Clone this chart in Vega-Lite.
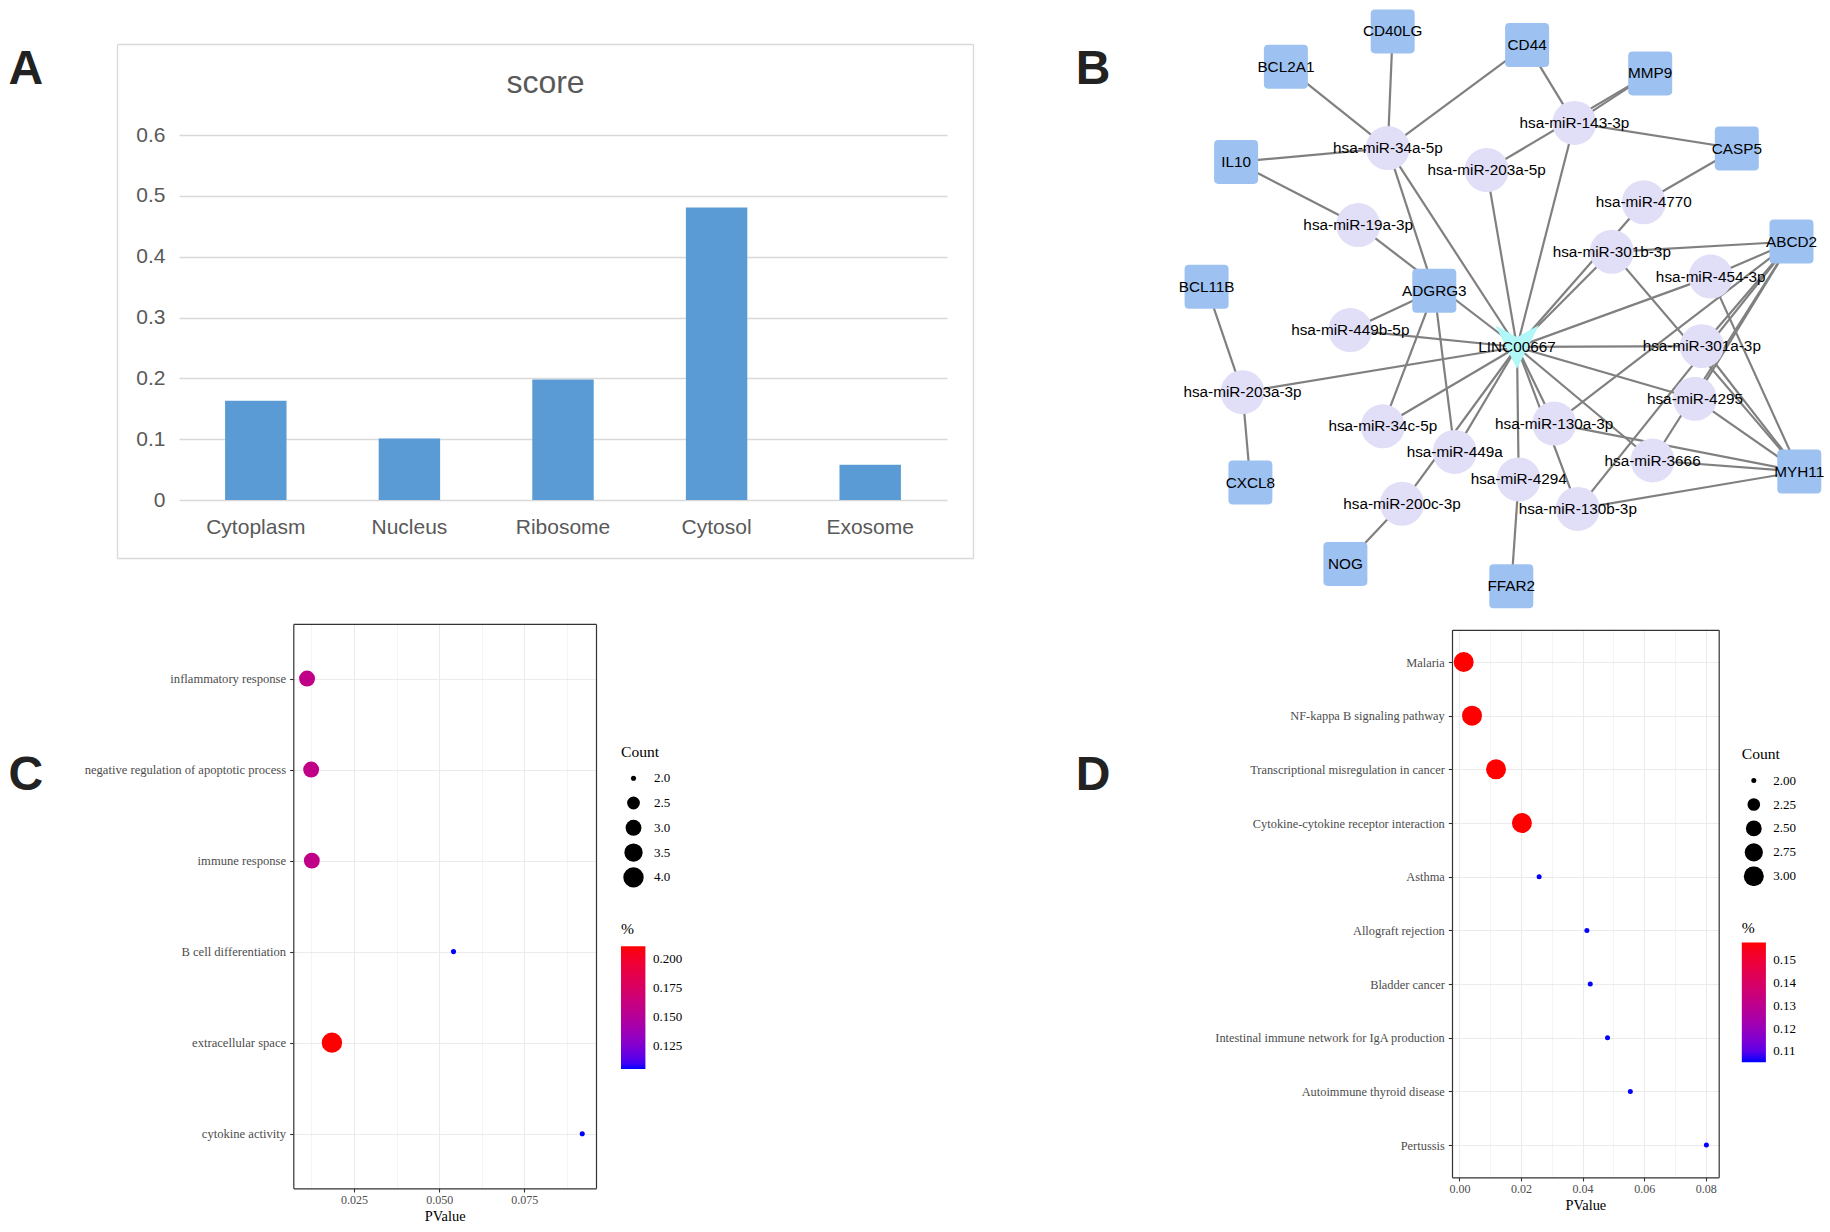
{
  "$schema": "https://vega.github.io/schema/vega-lite/v6.json",
  "width": 1830,
  "height": 1232,
  "autosize": {"type": "none"},
  "padding": 0,
  "background": "white",
  "config": {
    "view": {"stroke": null},
    "font": "Liberation Sans",
    "axis": {"labelOverlap": false},
    "legend": {"symbolBaseFillColor": "black", "symbolBaseStrokeColor": "black", "padding": 0}
  },
  "datasets": {
    "loc": [
      {"location": "Cytoplasm", "score": 0.163},
      {"location": "Nucleus", "score": 0.101},
      {"location": "Ribosome", "score": 0.198},
      {"location": "Cytosol", "score": 0.481},
      {"location": "Exosome", "score": 0.058}
    ],
    "frame": [{"v": 0}, {"v": 1}],
    "go": [
      {"term": "inflammatory response", "PValue": 0.0112, "Count": 3, "Percent": 0.1579},
      {"term": "negative regulation of apoptotic process", "PValue": 0.0124, "Count": 3, "Percent": 0.1579},
      {"term": "immune response", "PValue": 0.0126, "Count": 3, "Percent": 0.1579},
      {"term": "B cell differentiation", "PValue": 0.0542, "Count": 2, "Percent": 0.1053},
      {"term": "extracellular space", "PValue": 0.0185, "Count": 4, "Percent": 0.2105},
      {"term": "cytokine activity", "PValue": 0.092, "Count": 2, "Percent": 0.1053}
    ],
    "kegg": [
      {"term": "Malaria", "PValue": 0.0014, "Count": 3, "Percent": 0.1579},
      {"term": "NF-kappa B signaling pathway", "PValue": 0.0041, "Count": 3, "Percent": 0.1579},
      {"term": "Transcriptional misregulation in cancer", "PValue": 0.0119, "Count": 3, "Percent": 0.1579},
      {"term": "Cytokine-cytokine receptor interaction", "PValue": 0.0203, "Count": 3, "Percent": 0.1579},
      {"term": "Asthma", "PValue": 0.0259, "Count": 2, "Percent": 0.1053},
      {"term": "Allograft rejection", "PValue": 0.0414, "Count": 2, "Percent": 0.1053},
      {"term": "Bladder cancer", "PValue": 0.0425, "Count": 2, "Percent": 0.1053},
      {"term": "Intestinal immune network for IgA production", "PValue": 0.0481, "Count": 2, "Percent": 0.1053},
      {"term": "Autoimmune thyroid disease", "PValue": 0.0555, "Count": 2, "Percent": 0.1053},
      {"term": "Pertussis", "PValue": 0.0802, "Count": 2, "Percent": 0.1053}
    ],
    "nodes": [
      {"id": "CD40LG", "type": "gene", "x": 222.7, "y": 31.4},
      {"id": "BCL2A1", "type": "gene", "x": 115.9, "y": 66.7},
      {"id": "CD44", "type": "gene", "x": 357.1, "y": 45.1},
      {"id": "MMP9", "type": "gene", "x": 480.2, "y": 73.4},
      {"id": "CASP5", "type": "gene", "x": 566.8, "y": 148.5},
      {"id": "IL10", "type": "gene", "x": 66.1, "y": 161.9},
      {"id": "ABCD2", "type": "gene", "x": 621.5, "y": 241.6},
      {"id": "BCL11B", "type": "gene", "x": 36.6, "y": 286.8},
      {"id": "ADGRG3", "type": "gene", "x": 264.3, "y": 290.8},
      {"id": "MYH11", "type": "gene", "x": 629.3, "y": 471.5},
      {"id": "CXCL8", "type": "gene", "x": 80.4, "y": 482.5},
      {"id": "NOG", "type": "gene", "x": 175.4, "y": 563.9},
      {"id": "FFAR2", "type": "gene", "x": 341.3, "y": 586.3},
      {"id": "LINC00667", "type": "lnc", "x": 347, "y": 347},
      {"id": "hsa-miR-34a-5p", "type": "mirna", "x": 217.8, "y": 148.1},
      {"id": "hsa-miR-143-3p", "type": "mirna", "x": 404.4, "y": 122.9},
      {"id": "hsa-miR-203a-5p", "type": "mirna", "x": 316.7, "y": 170.1},
      {"id": "hsa-miR-4770", "type": "mirna", "x": 473.8, "y": 202.3},
      {"id": "hsa-miR-19a-3p", "type": "mirna", "x": 188.2, "y": 225.1},
      {"id": "hsa-miR-301b-3p", "type": "mirna", "x": 441.8, "y": 251.8},
      {"id": "hsa-miR-454-3p", "type": "mirna", "x": 540.7, "y": 276.6},
      {"id": "hsa-miR-449b-5p", "type": "mirna", "x": 180.3, "y": 330.1},
      {"id": "hsa-miR-301a-3p", "type": "mirna", "x": 531.8, "y": 346.2},
      {"id": "hsa-miR-203a-3p", "type": "mirna", "x": 72.5, "y": 392.2},
      {"id": "hsa-miR-4295", "type": "mirna", "x": 525.0, "y": 398.8},
      {"id": "hsa-miR-34c-5p", "type": "mirna", "x": 212.8, "y": 426.3},
      {"id": "hsa-miR-130a-3p", "type": "mirna", "x": 384.2, "y": 423.6},
      {"id": "hsa-miR-449a", "type": "mirna", "x": 284.7, "y": 451.9},
      {"id": "hsa-miR-3666", "type": "mirna", "x": 482.6, "y": 460.5},
      {"id": "hsa-miR-4294", "type": "mirna", "x": 348.7, "y": 479.4},
      {"id": "hsa-miR-200c-3p", "type": "mirna", "x": 232.0, "y": 503.8},
      {"id": "hsa-miR-130b-3p", "type": "mirna", "x": 407.8, "y": 508.9}
    ],
    "edges": [
      {"source": "BCL2A1", "target": "hsa-miR-34a-5p"},
      {"source": "CD40LG", "target": "hsa-miR-34a-5p"},
      {"source": "CD44", "target": "hsa-miR-34a-5p"},
      {"source": "IL10", "target": "hsa-miR-34a-5p"},
      {"source": "ADGRG3", "target": "hsa-miR-34a-5p"},
      {"source": "LINC00667", "target": "hsa-miR-34a-5p"},
      {"source": "CD44", "target": "hsa-miR-143-3p"},
      {"source": "MMP9", "target": "hsa-miR-143-3p"},
      {"source": "MMP9", "target": "hsa-miR-203a-5p"},
      {"source": "CASP5", "target": "hsa-miR-143-3p"},
      {"source": "LINC00667", "target": "hsa-miR-143-3p"},
      {"source": "LINC00667", "target": "hsa-miR-203a-5p"},
      {"source": "CASP5", "target": "hsa-miR-4770"},
      {"source": "LINC00667", "target": "hsa-miR-4770"},
      {"source": "LINC00667", "target": "hsa-miR-301b-3p"},
      {"source": "ABCD2", "target": "hsa-miR-301b-3p"},
      {"source": "MYH11", "target": "hsa-miR-301b-3p"},
      {"source": "ABCD2", "target": "hsa-miR-454-3p"},
      {"source": "ABCD2", "target": "hsa-miR-301a-3p"},
      {"source": "ABCD2", "target": "hsa-miR-4295"},
      {"source": "ABCD2", "target": "hsa-miR-3666"},
      {"source": "ABCD2", "target": "hsa-miR-130b-3p"},
      {"source": "ABCD2", "target": "hsa-miR-130a-3p"},
      {"source": "LINC00667", "target": "hsa-miR-454-3p"},
      {"source": "MYH11", "target": "hsa-miR-454-3p"},
      {"source": "LINC00667", "target": "hsa-miR-301a-3p"},
      {"source": "MYH11", "target": "hsa-miR-301a-3p"},
      {"source": "LINC00667", "target": "hsa-miR-4295"},
      {"source": "MYH11", "target": "hsa-miR-4295"},
      {"source": "LINC00667", "target": "hsa-miR-3666"},
      {"source": "MYH11", "target": "hsa-miR-3666"},
      {"source": "LINC00667", "target": "hsa-miR-130a-3p"},
      {"source": "MYH11", "target": "hsa-miR-130a-3p"},
      {"source": "LINC00667", "target": "hsa-miR-130b-3p"},
      {"source": "MYH11", "target": "hsa-miR-130b-3p"},
      {"source": "LINC00667", "target": "hsa-miR-4294"},
      {"source": "FFAR2", "target": "hsa-miR-4294"},
      {"source": "LINC00667", "target": "hsa-miR-449a"},
      {"source": "ADGRG3", "target": "hsa-miR-449a"},
      {"source": "LINC00667", "target": "hsa-miR-200c-3p"},
      {"source": "NOG", "target": "hsa-miR-200c-3p"},
      {"source": "LINC00667", "target": "hsa-miR-34c-5p"},
      {"source": "ADGRG3", "target": "hsa-miR-34c-5p"},
      {"source": "ADGRG3", "target": "hsa-miR-449b-5p"},
      {"source": "LINC00667", "target": "hsa-miR-449b-5p"},
      {"source": "LINC00667", "target": "hsa-miR-203a-3p"},
      {"source": "BCL11B", "target": "hsa-miR-203a-3p"},
      {"source": "CXCL8", "target": "hsa-miR-203a-3p"},
      {"source": "IL10", "target": "hsa-miR-19a-3p"},
      {"source": "LINC00667", "target": "hsa-miR-19a-3p"}
    ],
    "letters": [
      {"panel": "A", "col": "left", "row": "top"},
      {"panel": "B", "col": "right", "row": "top"},
      {"panel": "C", "col": "left", "row": "bottom"},
      {"panel": "D", "col": "right", "row": "bottom"}
    ]
  },
  "resolve": {
    "scale": {"x": "independent", "y": "independent", "color": "independent", "size": "independent"},
    "axis": {"x": "independent", "y": "independent"},
    "legend": {"color": "independent", "size": "independent"}
  },
  "layer": [
    {
      "data": {"name": "loc"},
      "mark": {"type": "bar", "color": "#5B9BD5"},
      "encoding": {
        "x": {
          "field": "location", "type": "nominal", "sort": null,
          "scale": {"type": "band", "domain": ["Cytoplasm", "Nucleus", "Ribosome", "Cytosol", "Exosome"], "range": [179, 947], "paddingInner": 0.6, "paddingOuter": 0.3},
          "axis": {"orient": "bottom", "offset": -715.5, "title": null, "domain": false, "ticks": false, "tickSize": 0, "labelPadding": 0, "labelAngle": 0, "labelFont": "Liberation Sans", "labelFontSize": 21, "labelColor": "#595959", "grid": false}
        },
        "y": {
          "field": "score", "type": "quantitative",
          "scale": {"domain": [0, 0.6], "range": [500, 135], "nice": false, "zero": true},
          "axis": {"orient": "left", "offset": -165, "title": null, "domain": false, "ticks": false, "tickSize": 0, "labelPadding": 0, "values": [0, 0.1, 0.2, 0.3, 0.4, 0.5, 0.6], "format": "~g", "labelFont": "Liberation Sans", "labelFontSize": 21, "labelColor": "#595959", "grid": true, "gridColor": "#D9D9D9", "gridWidth": 1.3}
        }
      }
    },
    {
      "data": {"name": "frame"},
      "mark": {"type": "point", "opacity": 0},
      "encoding": {
        "x": {
          "field": "v", "type": "quantitative",
          "scale": {"domain": [0, 1], "range": [117, 973], "nice": false, "zero": false},
          "axis": {"orient": "top", "offset": -44, "title": "score", "titleY": 38, "titleBaseline": "middle", "titleFont": "Liberation Sans", "titleFontSize": 32, "titleFontWeight": "normal", "titleColor": "#595959", "labels": false, "ticks": false, "grid": false, "domainColor": "#D9D9D9", "domainWidth": 1.3}
        },
        "y": {
          "field": "v", "type": "quantitative",
          "scale": {"domain": [0, 1], "range": [44, 558], "nice": false, "zero": false},
          "axis": {"orient": "left", "offset": -117, "title": null, "labels": false, "ticks": false, "grid": false, "domainColor": "#D9D9D9", "domainWidth": 1.3}
        }
      }
    },
    {
      "data": {"name": "frame"},
      "mark": {"type": "point", "opacity": 0},
      "encoding": {
        "x": {
          "field": "v", "type": "quantitative",
          "scale": {"domain": [0, 1], "range": [117, 973], "nice": false, "zero": false},
          "axis": {"orient": "bottom", "offset": -674, "title": null, "labels": false, "ticks": false, "grid": false, "domainColor": "#D9D9D9", "domainWidth": 1.3}
        },
        "y": {
          "field": "v", "type": "quantitative",
          "scale": {"domain": [0, 1], "range": [44, 558], "nice": false, "zero": false},
          "axis": {"orient": "right", "offset": -857, "title": null, "labels": false, "ticks": false, "grid": false, "domainColor": "#D9D9D9", "domainWidth": 1.3}
        }
      }
    },
    {
      "layer": [
        {
          "data": {"name": "edges"},
          "transform": [
            {"lookup": "source", "from": {"data": {"name": "nodes"}, "key": "id", "fields": ["x", "y"]}, "as": ["sx", "sy"]},
            {"lookup": "target", "from": {"data": {"name": "nodes"}, "key": "id", "fields": ["x", "y"]}, "as": ["tx", "ty"]}
          ],
          "mark": {"type": "rule", "color": "#808080", "strokeWidth": 2.2},
          "encoding": {
            "x": {"field": "sx", "type": "quantitative", "scale": {"domain": [0, 660], "range": [1170, 1830], "nice": false, "zero": false}, "axis": null},
            "y": {"field": "sy", "type": "quantitative", "scale": {"domain": [0, 615], "range": [0, 615], "nice": false, "zero": false}, "axis": null},
            "x2": {"field": "tx"},
            "y2": {"field": "ty"}
          }
        },
        {
          "data": {"name": "nodes"},
          "transform": [{"filter": "datum.type === 'gene'"}],
          "mark": {"type": "point", "filled": true, "opacity": 1, "color": "#9DC2F2", "size": 1936, "shape": "M -0.8 -1 L 0.8 -1 Q 1 -1 1 -0.8 L 1 0.8 Q 1 1 0.8 1 L -0.8 1 Q -1 1 -1 0.8 L -1 -0.8 Q -1 -1 -0.8 -1 Z"},
          "encoding": {
            "x": {"field": "x", "type": "quantitative", "scale": {"domain": [0, 660], "range": [1170, 1830], "nice": false, "zero": false}, "axis": null},
            "y": {"field": "y", "type": "quantitative", "scale": {"domain": [0, 615], "range": [0, 615], "nice": false, "zero": false}, "axis": null}
          }
        },
        {
          "data": {"name": "nodes"},
          "transform": [{"filter": "datum.type === 'mirna'"}],
          "mark": {"type": "point", "filled": true, "opacity": 1, "color": "#E1DEF8", "size": 1936, "shape": "circle"},
          "encoding": {
            "x": {"field": "x", "type": "quantitative", "scale": {"domain": [0, 660], "range": [1170, 1830], "nice": false, "zero": false}, "axis": null},
            "y": {"field": "y", "type": "quantitative", "scale": {"domain": [0, 615], "range": [0, 615], "nice": false, "zero": false}, "axis": null}
          }
        },
        {
          "data": {"name": "nodes"},
          "transform": [{"filter": "datum.type === 'lnc'"}],
          "mark": {"type": "point", "filled": true, "opacity": 1, "color": "#B0F8F8", "size": 1900, "shape": "M -1 -1 L 0 -0.45 L 1 -1 L 0 1 Z"},
          "encoding": {
            "x": {"field": "x", "type": "quantitative", "scale": {"domain": [0, 660], "range": [1170, 1830], "nice": false, "zero": false}, "axis": null},
            "y": {"field": "y", "type": "quantitative", "scale": {"domain": [0, 615], "range": [0, 615], "nice": false, "zero": false}, "axis": null}
          }
        },
        {
          "data": {"name": "nodes"},
          "mark": {"type": "text", "font": "Liberation Sans", "fontSize": 15.3, "color": "#000000", "align": "center", "baseline": "middle"},
          "encoding": {
            "x": {"field": "x", "type": "quantitative", "scale": {"domain": [0, 660], "range": [1170, 1830], "nice": false, "zero": false}, "axis": null},
            "y": {"field": "y", "type": "quantitative", "scale": {"domain": [0, 615], "range": [0, 615], "nice": false, "zero": false}, "axis": null},
            "text": {"field": "id"}
          }
        }
      ]
    },
    {
      "data": {"name": "go"},
      "resolve": {"axis": {"x": "independent", "y": "independent"}},
      "layer": [
        {
          "mark": {"type": "circle", "opacity": 1, "strokeWidth": 0},
          "encoding": {
            "x": {
              "field": "PValue", "type": "quantitative",
              "scale": {"type": "linear", "domain": [0.00716, 0.09604], "range": [293.3, 596], "nice": false, "zero": false},
              "axis": {"orient": "bottom", "offset": -43.7, "values": [0.025, 0.05, 0.075], "format": ".3f", "title": "PValue", "titleFont": "Liberation Serif", "titleFontSize": 14.4, "titleFontWeight": "normal", "titleColor": "#000000", "titlePadding": 4.5, "labelFont": "Liberation Serif", "labelFontSize": 12, "labelColor": "#4D4D4D", "labelPadding": 2, "labelFlush": false, "tickSize": 3.7, "tickColor": "#333333", "tickWidth": 1.1, "domainColor": "#333333", "domainWidth": 1.2, "grid": false}
            },
            "y": {
              "field": "term", "type": "nominal",
              "scale": {"type": "point", "domain": ["inflammatory response", "negative regulation of apoptotic process", "immune response", "B cell differentiation", "extracellular space", "cytokine activity"], "range": [623.9, 1188.3], "padding": 0.6},
              "axis": {"orient": "left", "offset": -293.3, "title": null, "labelFont": "Liberation Serif", "labelFontSize": 12.6, "labelColor": "#4D4D4D", "labelPadding": 4, "labelLimit": 500, "tickSize": 3.7, "tickColor": "#333333", "tickWidth": 1.1, "domainColor": "#333333", "domainWidth": 1.2, "grid": true, "gridColor": "#EBEBEB", "gridWidth": 1.1}
            },
            "size": {
              "field": "Count", "type": "quantitative",
              "scale": {"type": "linear", "domain": [2, 2.5, 3, 3.5, 4], "range": [26, 163, 253, 337, 416], "zero": false, "nice": false},
              "legend": {"title": "Count", "orient": "none", "legendX": 621, "legendY": 744.7, "direction": "vertical", "values": [2, 2.5, 3, 3.5, 4], "format": ".1f", "titleFont": "Liberation Serif", "titleFontSize": 15.6, "titleFontWeight": "normal", "titleColor": "#000000", "titlePadding": 7.4, "labelFont": "Liberation Serif", "labelFontSize": 13, "labelColor": "#000000", "labelOffset": 10, "symbolOffset": 2, "clipHeight": 21, "rowPadding": 3.8, "symbolType": "circle", "symbolFillColor": "#000000", "symbolStrokeColor": "#000000", "symbolStrokeWidth": 0, "padding": 0}
            },
            "color": {
              "field": "Percent", "type": "quantitative",
              "scale": {"type": "linear", "domain": [0.10526, 0.21053], "range": ["#0000FF", "#FF0000"], "interpolate": "lab"},
              "legend": {"title": "%", "orient": "none", "legendX": 621, "legendY": 922.4, "direction": "vertical", "gradientLength": 122.6, "gradientThickness": 24.4, "gradientStrokeWidth": 0, "values": [0.125, 0.15, 0.175, 0.2], "format": ".3f", "titleFont": "Liberation Serif", "titleFontSize": 15.6, "titleFontWeight": "normal", "titleColor": "#000000", "titlePadding": 8.3, "labelFont": "Liberation Serif", "labelFontSize": 13, "labelColor": "#000000", "labelOffset": 7.6, "labelOverlap": false, "padding": 0}
            }
          }
        },
        {
          "mark": {"type": "circle", "opacity": 0},
          "encoding": {
            "x": {
              "field": "PValue", "type": "quantitative",
              "scale": {"type": "linear", "domain": [0.00716, 0.09604], "range": [293.3, 596], "nice": false, "zero": false},
              "axis": {"orient": "top", "offset": -623.9, "values": [0.025, 0.05, 0.075], "title": null, "labels": false, "ticks": false, "domainColor": "#333333", "domainWidth": 1.2, "grid": true, "gridColor": "#EBEBEB", "gridWidth": 1.1}
            },
            "y": {
              "field": "term", "type": "nominal",
              "scale": {"type": "point", "domain": ["inflammatory response", "negative regulation of apoptotic process", "immune response", "B cell differentiation", "extracellular space", "cytokine activity"], "range": [623.9, 1188.3], "padding": 0.6},
              "axis": {"orient": "right", "offset": -1234, "title": null, "labels": false, "ticks": false, "grid": false, "domainColor": "#333333", "domainWidth": 1.2}
            }
          }
        },
        {
          "mark": {"type": "circle", "opacity": 0},
          "encoding": {
            "x": {
              "field": "PValue", "type": "quantitative",
              "scale": {"type": "linear", "domain": [0.00716, 0.09604], "range": [293.3, 596], "nice": false, "zero": false},
              "axis": {"orient": "top", "offset": -623.9, "values": [0.0125, 0.0375, 0.0625, 0.0875], "title": null, "labels": false, "ticks": false, "domain": false, "grid": true, "gridColor": "#EBEBEB", "gridWidth": 0.55}
            },
            "y": {
              "field": "term", "type": "nominal",
              "scale": {"type": "point", "domain": ["inflammatory response", "negative regulation of apoptotic process", "immune response", "B cell differentiation", "extracellular space", "cytokine activity"], "range": [623.9, 1188.3], "padding": 0.6},
              "axis": null
            }
          }
        }
      ]
    },
    {
      "data": {"name": "kegg"},
      "resolve": {"axis": {"x": "independent", "y": "independent"}},
      "layer": [
        {
          "mark": {"type": "circle", "opacity": 1, "strokeWidth": 0},
          "encoding": {
            "x": {
              "field": "PValue", "type": "quantitative",
              "scale": {"type": "linear", "domain": [-0.0024, 0.0842], "range": [1452, 1718.7], "nice": false, "zero": false},
              "axis": {"orient": "bottom", "offset": -54.7, "values": [0, 0.02, 0.04, 0.06, 0.08], "format": ".2f", "title": "PValue", "titleFont": "Liberation Serif", "titleFontSize": 14.4, "titleFontWeight": "normal", "titleColor": "#000000", "titlePadding": 4.5, "labelFont": "Liberation Serif", "labelFontSize": 12, "labelColor": "#4D4D4D", "labelPadding": 2, "labelFlush": false, "tickSize": 3.7, "tickColor": "#333333", "tickWidth": 1.1, "domainColor": "#333333", "domainWidth": 1.2, "grid": false}
            },
            "y": {
              "field": "term", "type": "nominal",
              "scale": {"type": "point", "domain": ["Malaria", "NF-kappa B signaling pathway", "Transcriptional misregulation in cancer", "Cytokine-cytokine receptor interaction", "Asthma", "Allograft rejection", "Bladder cancer", "Intestinal immune network for IgA production", "Autoimmune thyroid disease", "Pertussis"], "range": [629.8, 1177.3], "padding": 0.6},
              "axis": {"orient": "left", "offset": -1452, "title": null, "labelFont": "Liberation Serif", "labelFontSize": 12.4, "labelColor": "#4D4D4D", "labelPadding": 4, "labelLimit": 500, "tickSize": 3.7, "tickColor": "#333333", "tickWidth": 1.1, "domainColor": "#333333", "domainWidth": 1.2, "grid": true, "gridColor": "#EBEBEB", "gridWidth": 1.1}
            },
            "size": {
              "field": "Count", "type": "quantitative",
              "scale": {"type": "linear", "domain": [2, 2.25, 2.5, 2.75, 3], "range": [25, 160, 250, 330, 400], "zero": false, "nice": false},
              "legend": {"title": "Count", "orient": "none", "legendX": 1741.8, "legendY": 746.7, "direction": "vertical", "values": [2, 2.25, 2.5, 2.75, 3], "format": ".2f", "titleFont": "Liberation Serif", "titleFontSize": 15.6, "titleFontWeight": "normal", "titleColor": "#000000", "titlePadding": 8.3, "labelFont": "Liberation Serif", "labelFontSize": 13, "labelColor": "#000000", "labelOffset": 9.4, "symbolOffset": 2, "clipHeight": 20, "rowPadding": 3.9, "symbolType": "circle", "symbolFillColor": "#000000", "symbolStrokeColor": "#000000", "symbolStrokeWidth": 0, "padding": 0}
            },
            "color": {
              "field": "Percent", "type": "quantitative",
              "scale": {"type": "linear", "domain": [0.10526, 0.15789], "range": ["#0000FF", "#FF0000"], "interpolate": "lab"},
              "legend": {"title": "%", "orient": "none", "legendX": 1741.8, "legendY": 920.5, "direction": "vertical", "gradientLength": 119.8, "gradientThickness": 24.1, "gradientStrokeWidth": 0, "values": [0.11, 0.12, 0.13, 0.14, 0.15], "format": ".2f", "titleFont": "Liberation Serif", "titleFontSize": 15.6, "titleFontWeight": "normal", "titleColor": "#000000", "titlePadding": 6.3, "labelFont": "Liberation Serif", "labelFontSize": 13, "labelColor": "#000000", "labelOffset": 7.3, "labelOverlap": false, "padding": 0}
            }
          }
        },
        {
          "mark": {"type": "circle", "opacity": 0},
          "encoding": {
            "x": {
              "field": "PValue", "type": "quantitative",
              "scale": {"type": "linear", "domain": [-0.0024, 0.0842], "range": [1452, 1718.7], "nice": false, "zero": false},
              "axis": {"orient": "top", "offset": -629.8, "values": [0, 0.02, 0.04, 0.06, 0.08], "title": null, "labels": false, "ticks": false, "domainColor": "#333333", "domainWidth": 1.2, "grid": true, "gridColor": "#EBEBEB", "gridWidth": 1.1}
            },
            "y": {
              "field": "term", "type": "nominal",
              "scale": {"type": "point", "domain": ["Malaria", "NF-kappa B signaling pathway", "Transcriptional misregulation in cancer", "Cytokine-cytokine receptor interaction", "Asthma", "Allograft rejection", "Bladder cancer", "Intestinal immune network for IgA production", "Autoimmune thyroid disease", "Pertussis"], "range": [629.8, 1177.3], "padding": 0.6},
              "axis": {"orient": "right", "offset": -111.3, "title": null, "labels": false, "ticks": false, "grid": false, "domainColor": "#333333", "domainWidth": 1.2}
            }
          }
        },
        {
          "mark": {"type": "circle", "opacity": 0},
          "encoding": {
            "x": {
              "field": "PValue", "type": "quantitative",
              "scale": {"type": "linear", "domain": [-0.0024, 0.0842], "range": [1452, 1718.7], "nice": false, "zero": false},
              "axis": {"orient": "top", "offset": -629.8, "values": [0.01, 0.03, 0.05, 0.07], "title": null, "labels": false, "ticks": false, "domain": false, "grid": true, "gridColor": "#EBEBEB", "gridWidth": 0.55}
            },
            "y": {
              "field": "term", "type": "nominal",
              "scale": {"type": "point", "domain": ["Malaria", "NF-kappa B signaling pathway", "Transcriptional misregulation in cancer", "Cytokine-cytokine receptor interaction", "Asthma", "Allograft rejection", "Bladder cancer", "Intestinal immune network for IgA production", "Autoimmune thyroid disease", "Pertussis"], "range": [629.8, 1177.3], "padding": 0.6},
              "axis": null
            }
          }
        }
      ]
    },
    {
      "data": {"name": "letters"},
      "mark": {"type": "text", "font": "Liberation Sans", "fontSize": 48, "fontWeight": "bold", "color": "#222222", "align": "center", "baseline": "middle"},
      "encoding": {
        "x": {"field": "col", "type": "nominal", "scale": {"type": "point", "domain": ["left", "right"], "range": [25.8, 1093], "padding": 0}, "axis": null},
        "y": {"field": "row", "type": "nominal", "scale": {"type": "point", "domain": ["top", "bottom"], "range": [69.8, 776.4], "padding": 0}, "axis": null},
        "text": {"field": "panel"}
      }
    }
  ]
}
